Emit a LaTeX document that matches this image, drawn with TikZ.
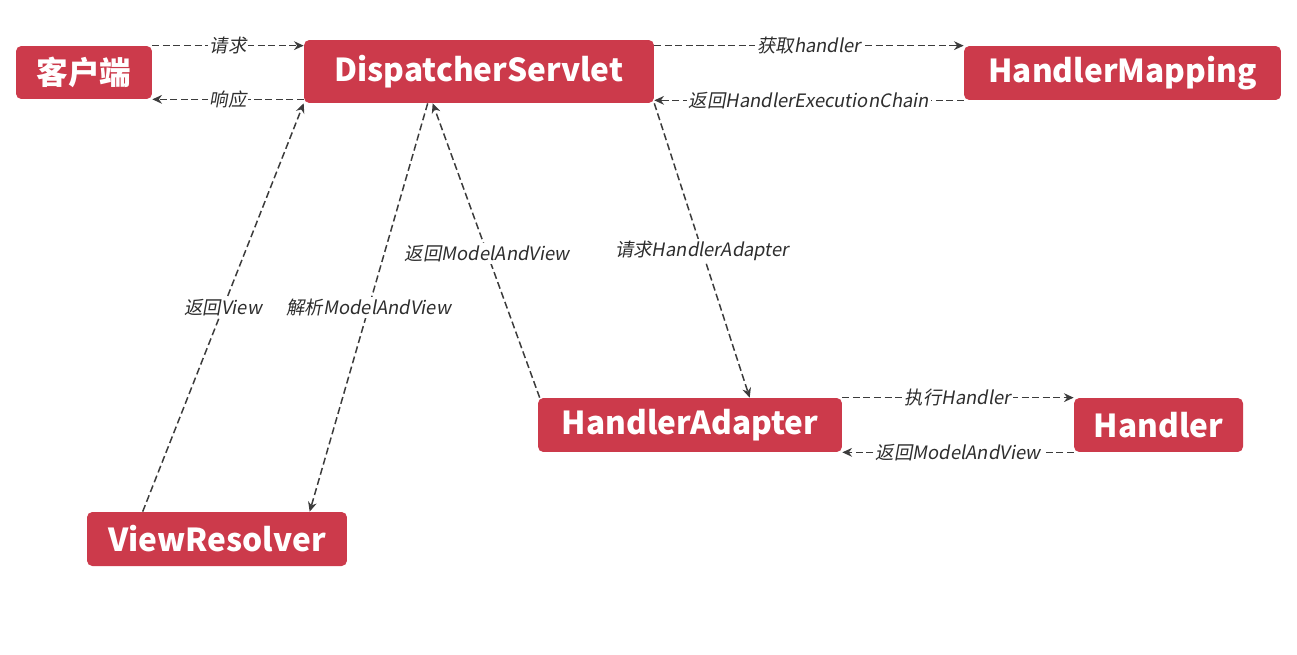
\documentclass[tikz,border=0pt]{standalone}
\usepackage{fontspec}
\setmainfont{Noto Sans CJK SC}
\newfontfamily\flowfont[FakeSlant=0.18]{Noto Sans CJK SC}
\usetikzlibrary{calc,arrows.meta}
\definecolor{mvcred}{HTML}{CC3A4B}
\definecolor{mvcline}{HTML}{3C3C3C}
\definecolor{mvctext}{HTML}{2E2E2E}

\begin{document}
\begin{tikzpicture}[x=0.02cm, y=-0.02cm,
  compbox/.style={fill=mvcred, text=white, rounded corners=3pt, minimum height=1.08cm, inner sep=0pt, font=\fontsize{18}{20}\selectfont\bfseries},
  flowarrow/.style={draw=mvcline, dash pattern=on 4pt off 2pt, line width=0.85pt, -{Stealth[length=5.5pt,width=5pt]}},
  flowlabel/.style={fill=white, inner sep=1pt, text=mvctext, font=\flowfont\fontsize{10.5}{12}\selectfont}
]
  \useasboundingbox (0,0) rectangle (1297,655);
  % components
  \node[compbox, minimum width=2.72cm, minimum height=1.06cm] (client) at (84,72.5) {客户端};
  \node[compbox, minimum width=7cm, minimum height=1.26cm] (ds) at (479,71.5) {DispatcherServlet};
  \node[compbox, minimum width=6.34cm] (hm) at (1122.5,73) {HandlerMapping};
  \node[compbox, minimum width=6.08cm] (ha) at (690,425) {HandlerAdapter};
  \node[compbox, minimum width=3.38cm] (hd) at (1158.5,425) {Handler};
  \node[compbox, minimum width=5.2cm] (vr) at (217,539) {ViewResolver};
  % request / response
  \draw[flowarrow] (client.north east) -- node[flowlabel] {请求} (client.north east -| ds.west);
  \draw[flowarrow] (client.south east -| ds.west) -- node[flowlabel] {响应} (client.south east);
  % handler mapping
  \draw[flowarrow] (ds.east |- hm.north west) -- node[flowlabel] {获取handler} (hm.north west);
  \draw[flowarrow] (hm.south west) -- node[flowlabel] {返回HandlerExecutionChain} (hm.south west -| ds.east);
  % view resolver
  \draw[flowarrow] ($(vr.north west)+(56,0)$) -- node[flowlabel] {返回View} (ds.south west);
  \draw[flowarrow] ($(ds.south west)+(124,0)$) -- node[flowlabel] {解析ModelAndView} ($(vr.north west)+(223,0)$);
  % handler adapter
  \draw[flowarrow] ($(ha.north west)+(2,0)$) -- node[flowlabel, pos=.49] {返回ModelAndView} ($(ds.south west)+(129,0)$);
  \draw[flowarrow] (ds.south east) -- node[flowlabel] {请求HandlerAdapter} ($(ha.north west)+(212,0)$);
  \draw[flowarrow] (ha.north east) -- node[flowlabel] {执行Handler} (hd.north west);
  \draw[flowarrow] (hd.south west) -- node[flowlabel] {返回ModelAndView} (ha.south east);
\end{tikzpicture}
\end{document}
